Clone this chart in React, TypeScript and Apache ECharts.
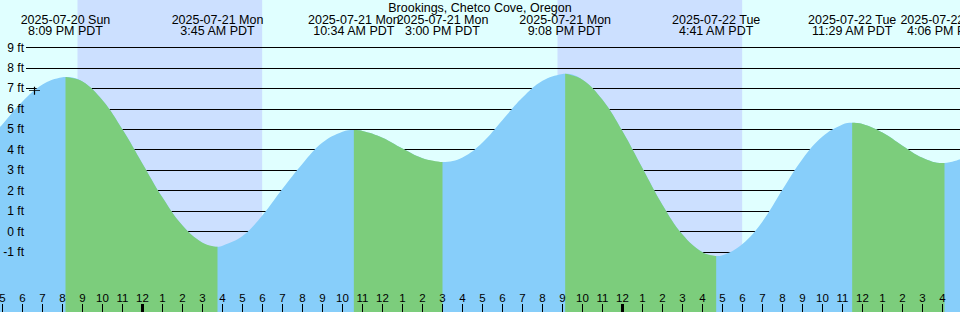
import React, { useEffect, useRef } from "react";
import * as echarts from "echarts";

// ---- data ----
const STATION = "Brookings, Chetco Cove, Oregon";
const START_DAY = 20; // axis hour 0 = 2025-07-20 5 PM PDT
const START_HOUR = 17;

const extremeDates = [
  "2025-07-20 Sun",
  "2025-07-21 Mon",
  "2025-07-21 Mon",
  "2025-07-21 Mon",
  "2025-07-21 Mon",
  "2025-07-22 Tue",
  "2025-07-22 Tue",
  "2025-07-22 Tue",
];
const extremeClock = ["8:09 PM", "3:45 AM", "10:34 AM", "3:00 PM", "9:08 PM", "4:41 AM", "11:29 AM", "4:06 PM"];
const extremeFt = [7.56, -0.75, 4.96, 3.4, 7.72, -1.2, 5.32, 3.35];

// tide height (ft) at each whole hour, hour 0 = 5 PM Jul 20 ... hour 47 = 4 PM Jul 22
const hourlyFt = [
  5.25, 6.36, 7.19, 7.55, 7.34, 6.42, 4.99, 3.32, 1.66, 0.29, -0.55, -0.7,
  -0.22, 0.8, 2.09, 3.32, 4.35, 4.88, 4.92, 4.59, 4.06, 3.59, 3.4, 3.62,
  4.35, 5.45, 6.55, 7.37, 7.71, 7.43, 6.44, 4.9, 3.09, 1.3, -0.15, -1.02,
  -1.16, -0.61, 0.49, 2.05, 3.55, 4.65, 5.24, 5.26, 4.84, 4.2, 3.61, 3.35,
];
const edgeFt = [5.12, 3.53]; // heights at the left and right edges

const sunsetDates = ["2025-07-20", "2025-07-21"];
const sunsetClock = ["8:45 PM", "8:45 PM"];
const sunriseDates = ["2025-07-21", "2025-07-22"];
const sunriseClock = ["5:59 AM", "5:59 AM"];

const levelFt = [-1, 0, 1, 2, 3, 4, 5, 6, 7, 8, 9];
const tickHours = Array.from({ length: 48 }, (_, i) => i);
const markerPoint = [1.6, 6.89];

// ---- helpers ----
const X_MIN = -0.125;
const X_MAX = 47.875;
const Y_MIN = -3.938;
const Y_MAX = 11.326;
const FONT = "Liberation Sans";
const DAY_BG = "#E0FFFF";
const NIGHT_BG = "#CCE0FF";
const FLOOD = "#87CEFA";
const EBB = "#7CCD7C";

function dayOf(date: string) {
  return parseInt(date.slice(8, 10), 10);
}
function clockToHours(day: number, clock: string) {
  const [t, ap] = clock.split(" ");
  const [hh, mm] = t.split(":").map(Number);
  const h = (hh % 12) + (ap === "PM" ? 12 : 0);
  return (day - START_DAY) * 24 + h + mm / 60 - START_HOUR;
}

const extremeHours = extremeClock.map((c, i) => clockToHours(dayOf(extremeDates[i]), c));
const nights = sunsetClock.map((c, i) => [
  clockToHours(dayOf(sunsetDates[i]), c),
  clockToHours(dayOf(sunriseDates[i]), sunriseClock[i]),
]);
const midnightHours = tickHours.filter((h) => (START_HOUR + h) % 24 === 0);

function buildCurve() {
  const pts: number[][] = [[X_MIN, edgeFt[0]]];
  hourlyFt.forEach((v, h) => {
    if (extremeHours.every((e) => Math.abs(e - h) > 0.05)) pts.push([h, v]);
  });
  extremeHours.forEach((h, i) => pts.push([h, extremeFt[i]]));
  pts.push([X_MAX, edgeFt[1]]);
  pts.sort((a, b) => a[0] - b[0]);
  return pts;
}
const curve = buildCurve();

const ebbSegments: number[][][] = [];
for (let i = 0; i < extremeHours.length - 1; i++) {
  if (extremeFt[i] > extremeFt[i + 1]) {
    const a = extremeHours[i];
    const b = extremeHours[i + 1];
    ebbSegments.push(curve.filter((p) => p[0] >= a - 1e-9 && p[0] <= b + 1e-9));
  }
}

function hourLabel(v: number) {
  const h = Math.round(v);
  return String((START_HOUR + h) % 12 || 12);
}
function extremeLabel(v: number) {
  let best = 0;
  extremeHours.forEach((h, i) => {
    if (Math.abs(h - v) < Math.abs(extremeHours[best] - v)) best = i;
  });
  return extremeDates[best] + "\n" + extremeClock[best] + " PDT";
}

export default function App() {
  const ref = useRef<HTMLDivElement>(null);
  useEffect(() => {
    if (!ref.current) return;
    const chart = echarts.init(ref.current, undefined, { renderer: "svg" });
    const areaBase = {
      type: "line",
      xAxisIndex: 0,
      yAxisIndex: 0,
      smooth: 0.4,
      showSymbol: false,
      symbol: "none",
      silent: true,
      lineStyle: { width: 0, opacity: 0 },
    };
    const noLine = { show: false, onZero: false };
    chart.setOption({
      animation: false,
      backgroundColor: DAY_BG,
      title: {
        text: STATION,
        left: "center",
        top: 1,
        padding: 0,
        textStyle: { fontSize: 12.5, fontWeight: "normal", color: "#000", fontFamily: FONT },
      },
      grid: [
        { left: 0, right: 0, top: 0, bottom: 0, containLabel: false, outerBoundsMode: "none" },
        { left: 26, right: 0, top: 0, bottom: 0, containLabel: false, outerBoundsMode: "none" },
      ],
      xAxis: [
        {
          type: "value",
          gridIndex: 0,
          min: X_MIN,
          max: X_MAX,
          position: "bottom",
          z: 10,
          axisLine: noLine,
          splitLine: { show: false },
          axisTick: {
            show: true,
            inside: true,
            length: 8,
            customValues: tickHours,
            lineStyle: { color: "#000", width: 1 },
          },
          axisLabel: {
            show: true,
            inside: true,
            margin: 14,
            verticalAlign: "middle",
            customValues: tickHours,
            formatter: (v: number) => hourLabel(v),
            color: "#000",
            fontSize: 11.5,
            fontFamily: FONT,
          },
        },
        {
          type: "value",
          gridIndex: 0,
          min: X_MIN,
          max: X_MAX,
          position: "top",
          z: 10,
          axisLine: noLine,
          axisTick: { show: false },
          splitLine: { show: false },
          axisLabel: {
            show: true,
            inside: true,
            margin: 13.9,
            verticalAlign: "top",
            align: "center",
            lineHeight: 11.6,
            customValues: extremeHours,
            formatter: (v: number) => extremeLabel(v),
            color: "#000",
            fontSize: 12.5,
            fontFamily: FONT,
          },
        },
        {
          type: "value",
          gridIndex: 0,
          min: X_MIN,
          max: X_MAX,
          position: "bottom",
          z: 11,
          axisLine: noLine,
          splitLine: { show: false },
          axisLabel: { show: false },
          axisTick: {
            show: true,
            inside: true,
            length: 8,
            customValues: midnightHours,
            lineStyle: { color: "#000", width: 3 },
          },
        },
        { type: "value", gridIndex: 1, min: 0, max: 1, show: false, axisLine: noLine },
      ],
      yAxis: [
        { type: "value", gridIndex: 0, min: Y_MIN, max: Y_MAX, show: false, axisLine: noLine },
        {
          type: "value",
          gridIndex: 1,
          min: Y_MIN,
          max: Y_MAX,
          position: "left",
          z: 10,
          axisLine: noLine,
          axisTick: { show: false },
          splitLine: { show: false },
          axisLabel: {
            show: true,
            customValues: levelFt,
            formatter: "{value} ft",
            margin: 2,
            color: "#000",
            fontSize: 12,
            fontFamily: FONT,
          },
        },
      ],
      series: [
        {
          type: "line",
          xAxisIndex: 0,
          yAxisIndex: 0,
          data: [],
          z: 0,
          silent: true,
          markArea: {
            silent: true,
            z: 0,
            itemStyle: { color: NIGHT_BG },
            data: nights.map(([a, b]) => [{ xAxis: a }, { xAxis: b }]),
          },
        },
        {
          type: "line",
          xAxisIndex: 3,
          yAxisIndex: 1,
          data: [],
          z: 1,
          silent: true,
          markLine: {
            silent: true,
            z: 1,
            symbol: ["none", "none"],
            label: { show: false },
            emphasis: { disabled: true },
            lineStyle: { color: "#000", width: 1, type: "solid" },
            data: levelFt.map((v) => ({ yAxis: v })),
          },
        },
        {
          ...areaBase,
          data: curve,
          z: 3,
          areaStyle: { color: FLOOD, opacity: 1, origin: "start" },
        },
        ...ebbSegments.map((seg) => ({
          ...areaBase,
          data: seg,
          z: 4,
          areaStyle: { color: EBB, opacity: 1, origin: "start" },
        })),
        {
          type: "scatter",
          xAxisIndex: 0,
          yAxisIndex: 0,
          data: [markerPoint],
          symbol: "path://M0,4H11M5.5,0V8",
          symbolSize: [11, 8],
          silent: true,
          z: 6,
          itemStyle: { color: "none", borderColor: "#000", borderWidth: 1, opacity: 1 },
        },
      ],
    });
    return () => chart.dispose();
  }, []);
  return (
    <div
      ref={ref}
      style={{ position: "absolute", left: 0, top: 0, width: 960, height: 312 }}
    />
  );
}
